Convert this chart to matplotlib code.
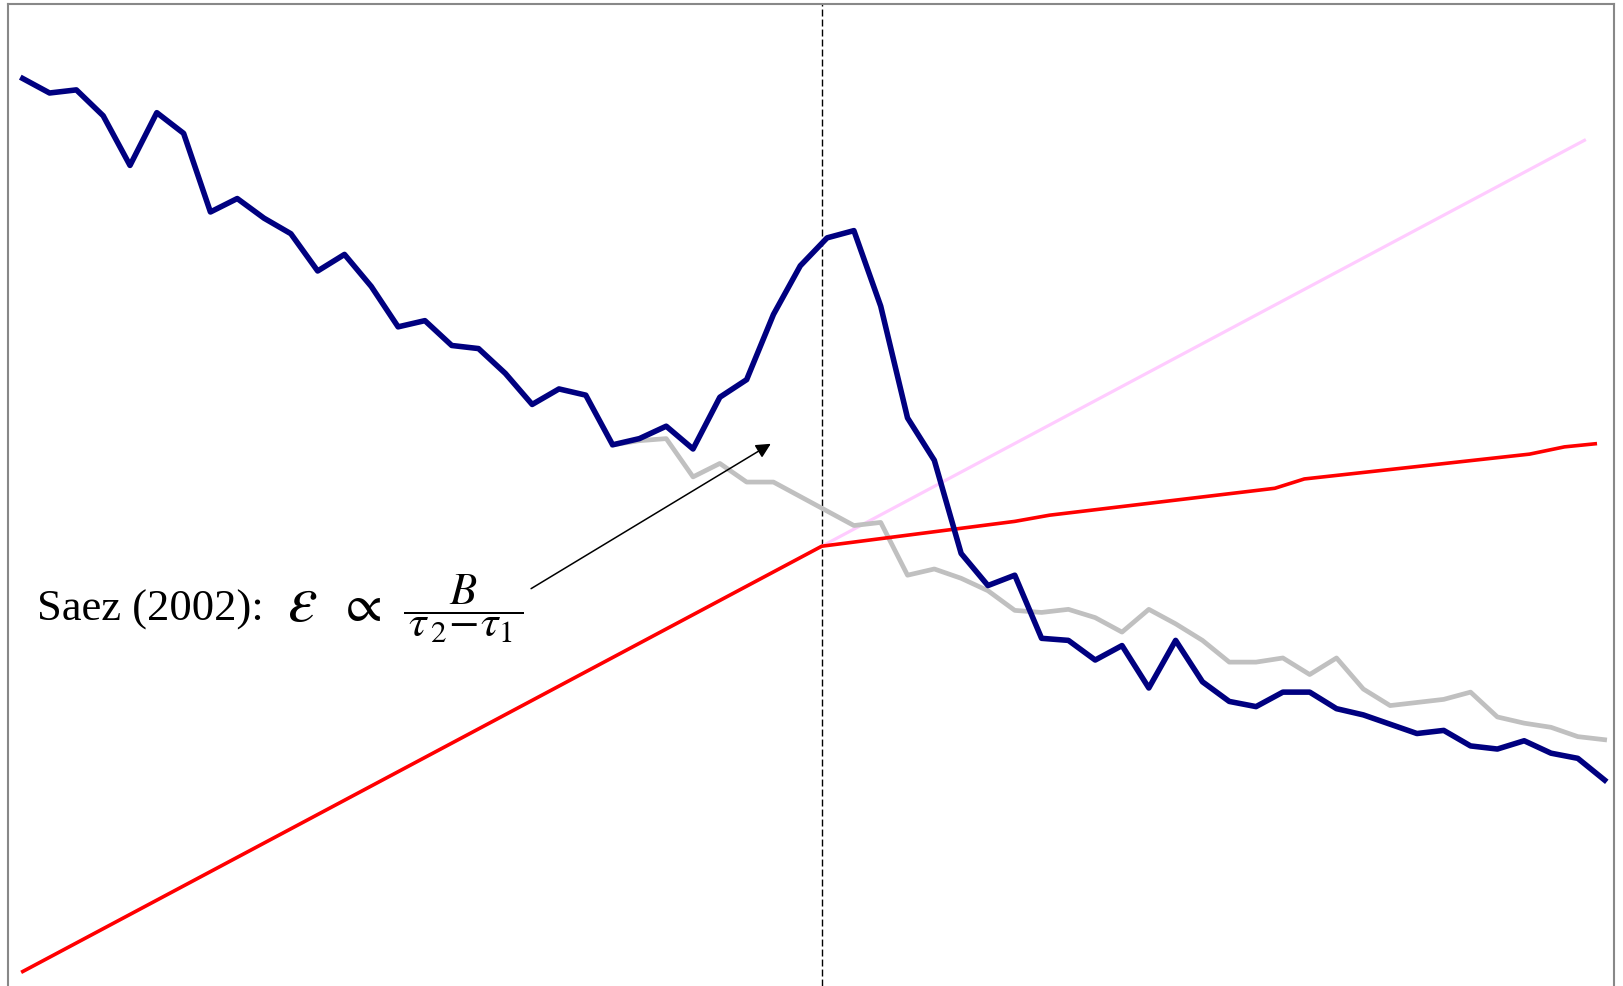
import matplotlib
matplotlib.use("Agg")
import matplotlib.pyplot as plt

plt.rcParams['mathtext.fontset'] = 'stix'

# ---- data (arbitrary units; no tick labels in the original) ----
bins = list(range(60))
observed = [87.7, 86.3, 86.6, 84.1, 79.3, 84.4, 82.4, 74.8, 76.1, 74.2,
            72.7, 69.1, 70.7, 67.6, 63.7, 64.3, 61.9, 61.6, 59.2, 56.2,
            57.7, 57.1, 52.3, 52.9, 54.1, 51.9, 56.9, 58.6, 64.9, 69.6,
            72.3, 73.0, 65.7, 54.9, 50.8, 41.8, 38.7, 39.7, 33.6, 33.4,
            31.5, 32.9, 28.8, 33.4, 29.4, 27.5, 27.0, 28.4, 28.4, 26.8,
            26.2, 25.3, 24.4, 24.7, 23.2, 22.9, 23.7, 22.5, 22.0, 19.9]

cf_bins = list(range(22, 60))
counterfactual = [52.3, 52.7, 52.9, 49.2, 50.5, 48.7, 48.7, 47.3, 45.9, 44.5,
                  44.8, 39.7, 40.3, 39.4, 38.2, 36.3, 36.1, 36.4, 35.6, 34.2,
                  36.4, 35.0, 33.4, 31.3, 31.3, 31.7, 30.1, 31.7, 28.7, 27.1,
                  27.4, 27.7, 28.4, 26.0, 25.4, 25.0, 24.1, 23.8]

linear_x = [0.0, 58.3]
linear_y = [1.4, 81.8]

kinked_x = [0.0, 29.8, 37.0, 38.3, 46.7, 47.8, 56.2, 57.5, 58.65]
kinked_y = [1.4, 42.5, 44.9, 45.5, 48.1, 49.0, 51.4, 52.1, 52.4]

kink = 29.8

label_text = 'Saez (2002):'
label_eps = r'$\varepsilon$'
label_prop = r'$\propto$'
label_frac = r'$\dfrac{B}{\,\tau_{\,2}\!-\!\tau_1\,}$'

# ---- figure ----
fig = plt.figure(figsize=(16.23, 9.87), dpi=100)
ax = fig.add_axes([8/1623, 0.0, (1614-8)/1623, 1 - 5/987])

ax.plot(linear_x, linear_y, color='#ffccff', lw=2.3, solid_capstyle='butt', zorder=2)
ax.plot(cf_bins, counterfactual, color='#c0c0c0', lw=3.4, zorder=3)
ax.plot(kinked_x, kinked_y, color='#ff0000', lw=2.6, zorder=4)
ax.plot(bins, observed, color='#000080', lw=4.0, zorder=5)
ax.axvline(kink, color='black', lw=1.0, dashes=(5, 2.2), zorder=1)

ax.annotate('', xy=(27.9, 52.4), xytext=(18.96, 38.4),
            arrowprops=dict(arrowstyle='-|>', color='black', lw=1.1,
                            mutation_scale=22, shrinkA=0, shrinkB=0))
ax.text(0.55, 35.4, label_text, fontsize=32, family='Liberation Serif',
        ha='left', va='baseline', zorder=6)
ax.text(9.85, 35.4, label_eps, fontsize=48, ha='left', va='baseline', zorder=6)
ax.text(11.75, 35.4, label_prop, fontsize=38, ha='left', va='baseline', zorder=6)
ax.text(14.2, 35.4, label_frac, fontsize=32, ha='left', va='baseline', zorder=6)

ax.set_xlim(-0.55, 59.35)
ax.set_ylim(0, 94.9)
ax.set_xticks([])
ax.set_yticks([])
for side in ['left', 'right', 'top']:
    ax.spines[side].set_color('#888888')
    ax.spines[side].set_linewidth(1.5)
ax.spines['bottom'].set_visible(False)

fig.savefig('out.png', dpi=100)
